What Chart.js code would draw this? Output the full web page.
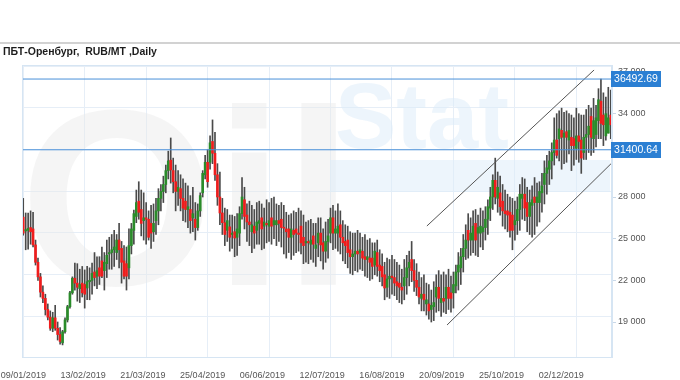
<!DOCTYPE html>
<html>
<head>
<meta charset="utf-8">
<script src="https://cdn.jsdelivr.net/npm/chart.js@4.4.1/dist/chart.umd.min.js"></script>
<style>
    html, body { margin: 0; background: #fff; }
    canvas { display: block; }
</style>
</head>
<body>
<canvas id="chart" width="680" height="380"></canvas>
<script>
const chartTitle = 'ПБТ-Оренбург,  RUB/MT ,Daily';
const dateLabels = ['09/01/2019', '13/02/2019', '21/03/2019', '25/04/2019', '06/06/2019',
    '12/07/2019', '16/08/2019', '20/09/2019', '25/10/2019', '02/12/2019'];
const barsPerLabel = 25;
const yTicks = [19000, 22000, 25000, 28000, 31000, 34000, 37000];

const opens = [
    26550, 25550, 25600, 25800, 25700, 24550, 23300, 22250, 21150, 20700,
    19900, 19350, 18550, 19300, 18550, 18100, 17500, 18300, 19150, 20100,
    21100, 22150, 21800, 21400, 21800, 21700, 21450, 21900, 22000, 22600,
    22300, 22900, 23400, 22700, 23200, 23900, 24000, 24200, 24000, 24900,
    24300, 23400, 23200, 22900, 24500, 25600, 26600, 27700, 27100, 26300,
    26500, 26400, 26100, 25500, 26300, 27000, 27900, 28400, 28900, 29900,
    30650, 29900, 29100, 28400, 28600, 27900, 27700, 27100, 27100, 26500,
    26400, 25800, 27000, 28300, 29600, 30500, 30500, 32000, 31150, 29600,
    28000, 26850, 26150, 25600, 25850, 25300, 25500, 25100, 25400, 26800,
    27800, 26700, 26200, 25500, 25900, 25600, 26100, 26500, 25900, 26100,
    25900, 26500, 26000, 26000, 26300, 26400, 25800, 25700, 25700, 25100,
    25600, 25700, 25400, 25900, 25100, 24700, 24800, 24600, 25200, 24300,
    24700, 25400, 24700, 24100, 24800, 25400, 26500, 25400, 25400, 26000,
    25100, 24800, 24900, 24200, 23700, 23900, 24100, 24000, 24100, 23700,
    23500, 23600, 23600, 23100, 24000, 23100, 23000, 22400, 21500, 22100,
    22300, 22200, 21900, 21800, 21500, 21600, 22200, 22900, 23500, 22700,
    22000, 21500, 20700, 21000, 20300, 20300, 19900, 20100, 20800, 21500,
    20400, 20700, 20700, 21500, 21100, 21100, 21600, 22600, 22900, 23700,
    24300, 25600, 24900, 24900, 26100, 25400, 25400, 25500, 25800, 26400,
    27200, 28000, 29200, 27900, 28300, 27700, 27000, 27000, 26900, 26700,
    26000, 26300, 27100, 27900, 28200, 27600, 26600, 27400, 28000, 27600,
    27600, 28300, 28900, 29700, 30000, 30600, 31200, 32100, 32200, 32800,
    32300, 32700, 32100, 32300, 32200, 31500, 32400, 32100, 31200, 32300,
    32500, 33800, 32200, 32500, 33500, 34900, 33900, 32400, 32600, 33900
];
const highs = [
    27900, 26850, 26850, 27000, 26900, 24900, 23600, 22500, 21600, 21000,
    20300, 19800, 19700, 20200, 19000, 18600, 18400, 19300, 20200, 21200,
    22250, 23250, 23200, 22800, 23000, 22750, 23000, 22900, 23250, 24000,
    23700, 23700, 24400, 24000, 24900, 25100, 25300, 25600, 25300, 26100,
    24800, 24500, 24400, 25700, 26100, 27050, 28500, 29100, 28500, 28300,
    27600, 27000, 27400, 27500, 27900, 28600, 28900, 29500, 30300, 31300,
    32250, 30800, 30300, 29900, 29600, 29300, 29000, 28800, 28100, 28700,
    27600, 27500, 28300, 29900, 31000, 31400, 32400, 33550, 32650, 30400,
    29800, 27900, 27200, 27100, 26700, 26700, 26600, 26800, 27300, 29400,
    28700, 27500, 27700, 27400, 27100, 27600, 27700, 27500, 27200, 27800,
    27600, 27900, 28000, 27500, 27400, 27600, 27400, 26900, 26700, 26800,
    27000, 26900, 27200, 27000, 26700, 26200, 26300, 26400, 26100, 26100,
    26500, 26500, 25700, 26200, 26400, 27200, 27400, 27000, 27500, 27000,
    26300, 26000, 25900, 25500, 25400, 25400, 25600, 25400, 25100, 25300,
    24900, 25000, 24700, 24700, 24900, 24200, 23900, 23300, 23600, 23500,
    23800, 23500, 23300, 23100, 22800, 23500, 23800, 24100, 24800, 23500,
    23200, 22600, 22200, 22400, 21800, 21700, 21300, 21900, 22400, 22700,
    22400, 22600, 22400, 22800, 22300, 22600, 23100, 24000, 24300, 25300,
    26000, 26800, 26500, 27000, 27100, 26700, 27200, 27000, 27300, 27800,
    28700, 29600, 30800, 29800, 29500, 28900, 28500, 28200, 28000, 27900,
    27700, 28000, 28900, 29400, 29300, 28700, 28500, 28800, 29400, 29000,
    29100, 29700, 30600, 31000, 31300, 31900, 33700, 34000, 34200, 34400,
    34100, 34200, 34000, 33900, 33700, 34400, 34000, 33900, 33900, 34300,
    34600, 34400, 35100, 34600, 35800, 36490, 35500, 35200, 35900, 35700
];
const lows = [
    25250, 24200, 24250, 24600, 24400, 23100, 22000, 20800, 20400, 19500,
    19150, 18400, 18300, 18400, 17700, 17400, 17350, 18200, 19000, 20000,
    21000, 21300, 20500, 20400, 20800, 20000, 20600, 20600, 21000, 21600,
    21400, 21700, 22200, 21300, 22200, 22800, 22800, 23000, 23500, 22900,
    21800, 22100, 21300, 22100, 23900, 24600, 26150, 26400, 25200, 24900,
    24600, 24900, 24300, 24800, 25300, 26000, 27000, 27600, 28300, 29300,
    29000, 28300, 27000, 27400, 27000, 26300, 26200, 25800, 25400, 25500,
    24900, 25600, 26600, 28000, 29300, 28700, 30000, 30400, 29200, 27400,
    26000, 25300, 24500, 24800, 24100, 24300, 23700, 23800, 24500, 26400,
    25700, 24800, 24500, 24000, 24300, 24600, 24600, 24200, 24300, 24700,
    24800, 24600, 25000, 24500, 24800, 24400, 23900, 23600, 24000, 23500,
    23800, 24000, 24100, 23900, 23200, 23300, 23200, 23500, 23300, 23000,
    23700, 23400, 22800, 23300, 23600, 24700, 24200, 24300, 24100, 23900,
    23400, 23200, 22900, 22500, 22400, 22700, 22600, 22800, 22700, 22300,
    22200, 22000, 22100, 22400, 22300, 21900, 21600, 20600, 20800, 20700,
    21000, 20900, 20600, 20400, 20300, 20600, 21000, 21600, 21900, 21200,
    20900, 20300, 19800, 19800, 19500, 19200, 19000, 19100, 19700, 19800,
    19400, 19700, 19600, 19900, 19700, 20000, 21100, 21300, 21700, 22600,
    23500, 23600, 23800, 24000, 23800, 23700, 24400, 24200, 24900, 25300,
    26300, 27100, 27500, 26900, 26700, 25900, 25700, 25500, 25100, 24200,
    24900, 25300, 25600, 26400, 26300, 25500, 25300, 25100, 25300, 25900,
    26200, 26900, 27500, 28200, 28900, 29300, 30300, 30800, 30600, 30000,
    30400, 30500, 31100, 29900, 30300, 30700, 30500, 29700, 30700, 30700,
    31200, 31000, 31200, 31600, 32200, 32200, 31700, 32100, 32600, 32200
];
const closes = [
    25400, 25650, 25750, 25500, 24550, 23300, 22250, 21150, 20700, 19900,
    19350, 18550, 19300, 18550, 18100, 17600, 18300, 19150, 20100, 21100,
    22150, 21800, 21500, 21700, 21100, 21000, 21900, 22000, 22500, 22200,
    22700, 22300, 22300, 23300, 23800, 24000, 24200, 24400, 24900, 24200,
    23300, 22300, 22300, 24500, 25700, 26800, 27600, 26900, 26100, 26500,
    26400, 25100, 25400, 26100, 27000, 27900, 28400, 28900, 29900, 30600,
    29950, 29100, 28400, 28700, 27900, 27200, 27100, 27300, 26300, 26800,
    25800, 27000, 28100, 29700, 30500, 29100, 31900, 31150, 29600, 28000,
    26850, 26150, 25300, 26300, 25100, 25400, 25050, 25700, 26800, 28000,
    26600, 26200, 26000, 26000, 25400, 26200, 26300, 25700, 26200, 26000,
    26300, 25900, 26300, 26300, 26100, 25800, 25750, 25500, 25100, 25700,
    25300, 25400, 25300, 24700, 24500, 24800, 24700, 24900, 24600, 24550,
    25400, 24550, 24100, 24800, 25200, 26500, 25400, 25700, 25900, 25100,
    24700, 24500, 24000, 23700, 23900, 24100, 23900, 24200, 23600, 23500,
    23700, 23300, 23000, 24100, 23000, 22700, 22250, 21450, 22100, 22300,
    22200, 21800, 21600, 21500, 21300, 22200, 22900, 23300, 22700, 22000,
    21500, 20800, 21000, 20600, 20600, 19800, 20200, 20400, 21500, 20700,
    20700, 20500, 21500, 20700, 20700, 21700, 22600, 23100, 23700, 24300,
    24900, 24900, 25400, 25900, 24900, 25800, 25900, 25800, 26400, 27300,
    28000, 29200, 28000, 28700, 27300, 27000, 26800, 26700, 25600, 25600,
    26300, 27100, 28200, 28200, 27200, 26600, 27600, 27800, 27600, 28000,
    28400, 28800, 29700, 30100, 30600, 31200, 32100, 31000, 32900, 32300,
    32600, 32300, 32800, 31700, 31700, 32400, 32000, 30800, 32300, 32500,
    33100, 32300, 33500, 33700, 35000, 33300, 33200, 34000, 33700, 33200
];

const levels = [36492.69, 31400.64];
const upperChannel = [{ x: 164.2, y: 25912 }, { x: 232.2, y: 37144 }];
const lowerChannel = [{ x: 172.4, y: 18784 }, { x: 239.4, y: 30448 }];

const yMin = 16480;
const yMax = 37504;
const gridShift = 432; // horizontal grid sits a few px above the price labels

const formatPrice = (v) => String(v).replace(/\B(?=(\d{3})+(?!\d))/g, ' ');

const frame = {
    id: 'frame',
    beforeDraw(chart) {
        const { ctx, width } = chart;
        ctx.save();
        ctx.fillStyle = '#fff';
        ctx.fillRect(0, 0, width, chart.height);
        ctx.fillStyle = '#d2d2d2';
        ctx.fillRect(0, 42, width, 2);
        ctx.fillStyle = '#1c1c1c';
        ctx.font = 'bold 10.5px "Liberation Sans", Arial, sans-serif';
        ctx.textBaseline = 'middle';
        ctx.fillText(chartTitle, 3, 52);
        ctx.restore();
    },
    beforeDatasetsDraw(chart) {
        // faint watermark logo
        const { ctx, chartArea: a } = chart;
        ctx.save();
        ctx.beginPath();
        ctx.rect(a.left, a.top, a.right - a.left, a.bottom - a.top);
        ctx.clip();
        ctx.fillStyle = 'rgba(232, 232, 232, 0.45)';
        ctx.font = 'bold 250px "Liberation Sans", Arial, sans-serif';
        ctx.fillText('Oil', 20, 285);
        ctx.fillStyle = 'rgba(220, 235, 249, 0.5)';
        ctx.font = 'bold 92px "Liberation Sans", Arial, sans-serif';
        ctx.fillText('Stat', 335, 148);
        ctx.fillRect(330, 160, 280, 32);
        ctx.restore();
    },
    afterDraw(chart) {
        const { ctx, chartArea: a, scales } = chart;
        ctx.save();
        ctx.strokeStyle = '#d6e5f3';
        ctx.lineWidth = 1;
        ctx.strokeRect(a.left + 0.5, a.top + 0.5, a.right - a.left - 1, a.bottom - a.top);
        ctx.font = '10.5px "Liberation Sans", Arial, sans-serif';
        ctx.textAlign = 'center';
        ctx.textBaseline = 'middle';
        levels.forEach((level) => {
            const y = Math.round(scales.y.getPixelForValue(level));
            ctx.fillStyle = '#2b7fd3';
            ctx.fillRect(a.right - 1, y - 8, 50, 16);
            ctx.fillStyle = '#fff';
            ctx.fillText(level.toFixed(2), a.right + 24, y + 0.5);
        });
        ctx.restore();
    },
};

const flatLine = (value) => [{ x: -0.5, y: value }, { x: opens.length - 0.5, y: value }];

new Chart(document.getElementById('chart'), {
    type: 'bar',
    data: {
        datasets: [
            {
                data: highs.map((h, i) => ({ x: i, y: [lows[i], h] })),
                backgroundColor: '#4a4a4a',
                barThickness: 1,
                grouped: false,
                order: 3,
            },
            {
                data: opens.map((o, i) => ({ x: i, y: [o, closes[i]] })),
                backgroundColor: opens.map((o, i) => closes[i] >= o ? '#2a8c2a' : '#f01c1c'),
                barThickness: 2,
                minBarLength: 1,
                grouped: false,
                order: 2,
            },
            ...levels.map((level) => ({
                type: 'line',
                data: flatLine(level),
                borderColor: '#4a90d9',
                borderWidth: 1,
                pointRadius: 0,
                order: 1,
            })),
            ...[upperChannel, lowerChannel].map((points) => ({
                type: 'line',
                data: points,
                borderColor: '#555',
                borderWidth: 1,
                pointRadius: 0,
                order: 1,
            })),
        ],
    },
    options: {
        responsive: false,
        animation: false,
        events: [],
        layout: { padding: { top: 65, left: 22, right: 0, bottom: 0 } },
        plugins: { legend: { display: false }, tooltip: { enabled: false } },
        scales: {
            x: {
                type: 'linear',
                offset: false,
                min: -0.5,
                max: opens.length - 0.5,
                afterBuildTicks: (axis) => { axis.ticks = dateLabels.map((_, k) => ({ value: k * barsPerLabel })); },
                ticks: { display: false },
                grid: { color: '#e6eef7', drawTicks: false, offset: false },
                border: { display: false },
                afterFit: (axis) => { axis.height = 0; axis.paddingLeft = 0; axis.paddingRight = 0; },
            },
            xl: {
                type: 'linear',
                position: 'bottom',
                offset: false,
                min: -0.023,
                max: 9.851,
                afterBuildTicks: (axis) => { axis.ticks = dateLabels.map((_, k) => ({ value: k })); },
                ticks: {
                    callback: (v) => dateLabels[v] ?? '',
                    maxRotation: 0,
                    autoSkip: false,
                    padding: 5,
                    color: '#555',
                    font: { family: '"Liberation Sans", Arial, sans-serif', size: 9 },
                },
                grid: { display: false },
                border: { display: false },
                afterFit: (axis) => { axis.height = 23; axis.paddingLeft = 0; axis.paddingRight = 0; },
            },
            y: {
                position: 'right',
                min: yMin,
                max: yMax,
                afterBuildTicks: (axis) => { axis.ticks = yTicks.map((v) => ({ value: v })); },
                ticks: {
                    callback: (v) => formatPrice(v),
                    padding: 2,
                    color: '#555',
                    font: { family: '"Liberation Sans", Arial, sans-serif', size: 9 },
                },
                grid: { drawOnChartArea: false, tickLength: 4, color: '#c9d8e8' },
                border: { color: '#d6e5f3' },
                afterFit: (axis) => { axis.width = 68; axis.paddingTop = 0; axis.paddingBottom = 0; },
            },
            yg: {
                position: 'left',
                min: yMin - gridShift,
                max: yMax - gridShift,
                afterBuildTicks: (axis) => { axis.ticks = yTicks.map((v) => ({ value: v })); },
                ticks: { display: false },
                grid: { color: '#e6eef7', drawTicks: false },
                border: { display: false },
                afterFit: (axis) => { axis.width = 0; axis.paddingTop = 0; axis.paddingBottom = 0; },
            },
        },
    },
    plugins: [frame],
});
</script>
</body>
</html>
